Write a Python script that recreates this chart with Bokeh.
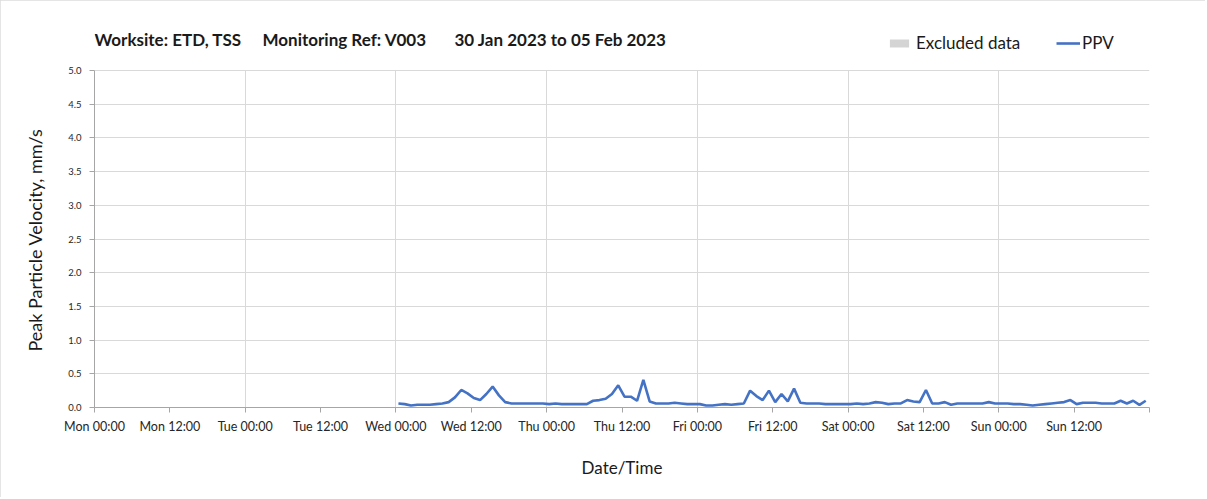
import pandas as pd
from bokeh.plotting import figure
from bokeh.models import (FixedTicker, DatetimeTickFormatter, Legend, LegendItem,
                          NumeralTickFormatter, Range1d, ColumnDataSource, Label, Title)
from bokeh.embed import file_html
from bokeh.resources import INLINE

# ---- data (hourly PPV readings, mm/s) ----
series_start = "2023-02-01 00:24"
wed_ppv = [0.06, 0.05, 0.03, 0.04, 0.04, 0.04, 0.05, 0.06, 0.08, 0.15, 0.26, 0.21,
           0.14, 0.11, 0.20, 0.31, 0.18, 0.08, 0.06, 0.06, 0.06, 0.06, 0.06, 0.06]
thu_ppv = [0.05, 0.06, 0.05, 0.05, 0.05, 0.05, 0.05, 0.10, 0.11, 0.13, 0.20, 0.33,
           0.16, 0.16, 0.10, 0.41, 0.09, 0.06, 0.06, 0.06, 0.07, 0.06, 0.05, 0.05]
fri_ppv = [0.05, 0.03, 0.03, 0.04, 0.05, 0.04, 0.05, 0.06, 0.25, 0.17, 0.11, 0.25,
           0.08, 0.20, 0.09, 0.28, 0.07, 0.06, 0.06, 0.06, 0.05, 0.05, 0.05, 0.05]
sat_ppv = [0.05, 0.06, 0.05, 0.06, 0.08, 0.07, 0.05, 0.06, 0.06, 0.11, 0.09, 0.08,
           0.26, 0.06, 0.06, 0.08, 0.04, 0.06, 0.06, 0.06, 0.06, 0.06, 0.08, 0.06]
sun_ppv = [0.06, 0.06, 0.05, 0.05, 0.04, 0.03, 0.04, 0.05, 0.06, 0.07, 0.08, 0.11,
           0.05, 0.07, 0.07, 0.07, 0.06, 0.06, 0.06, 0.10, 0.06, 0.10, 0.04, 0.10]

period_start = "2023-01-30 00:00"
period_end = "2023-02-06 00:00"
y_ticks = [0.0, 0.5, 1.0, 1.5, 2.0, 2.5, 3.0, 3.5, 4.0, 4.5, 5.0]
y_max = 5.0

title_parts = ["Worksite: ETD, TSS", "Monitoring Ref: V003", "30 Jan 2023 to 05 Feb 2023"]
legend_labels = ["Excluded data", "PPV"]
y_label = "Peak Particle Velocity, mm/s"
x_label = "Date/Time"

ppv = wed_ppv + thu_ppv + fri_ppv + sat_ppv + sun_ppv
times = pd.date_range(series_start, periods=len(ppv), freq="h")
src = ColumnDataSource(dict(t=times, v=ppv))

FONT = "Lato"
AXIS_COL = "#a6a6a6"
GRID_COL = "#d9d9d9"
TXT = "#1a1a1a"

# layout: frame spans 5.0 units over 337px; extra headroom holds title/legend
FRAME_H = 383
PLOT_H = 337
y_top = y_max * FRAME_H / PLOT_H

p = figure(width=1205, height=497, x_axis_type="datetime",
           output_backend="svg", toolbar_location=None,
           x_range=Range1d(pd.Timestamp(period_start), pd.Timestamp(period_end)),
           y_range=Range1d(0, y_top),
           min_border_left=94, min_border_right=56, min_border_top=24, min_border_bottom=90)
p.styles = {"outline": "1px solid #dcdcdc", "outline-offset": "-1px"}
p.outline_line_color = None

# x axis
tick_ms = [t.value / 1e6 for t in pd.date_range(period_start, period_end, freq="12h")]
day_ms = [t.value / 1e6 for t in pd.date_range(period_start, period_end, freq="24h")][1:]
fmt = "%a %H:%M"
p.xaxis.ticker = FixedTicker(ticks=tick_ms)
p.xaxis.formatter = DatetimeTickFormatter(microseconds=fmt, milliseconds=fmt, seconds=fmt,
                                          minsec=fmt, minutes=fmt, hourmin=fmt, hours=fmt,
                                          days=fmt, months=fmt, years=fmt, context=None)
p.xaxis.major_label_overrides = {tick_ms[-1]: ""}
p.xgrid.ticker = FixedTicker(ticks=day_ms)
p.xgrid.grid_line_color = GRID_COL
p.xgrid.cross_bounds = (0, y_max)
p.xaxis.axis_label = x_label
p.xaxis.axis_label_text_font = FONT
p.xaxis.axis_label_text_font_size = "17px"
p.xaxis.axis_label_text_font_style = "normal"
p.xaxis.axis_label_text_color = TXT
p.xaxis.axis_label_standoff = 20
p.xaxis.major_label_text_font = FONT
p.xaxis.major_label_text_font_size = "12.5px"
p.xaxis.major_label_text_color = "#262626"
p.xaxis.major_label_standoff = 6

# y axis
p.yaxis.ticker = FixedTicker(ticks=y_ticks)
p.yaxis.bounds = (0, y_max)
p.yaxis.formatter = NumeralTickFormatter(format="0.0")
p.ygrid.ticker = FixedTicker(ticks=y_ticks)
p.ygrid.grid_line_color = GRID_COL
p.yaxis.major_label_text_font = FONT
p.yaxis.major_label_text_font_size = "9.5px"
p.yaxis.major_label_text_color = "#262626"
p.yaxis.major_label_standoff = 8

for ax in (p.xaxis, p.yaxis):
    ax.axis_line_color = AXIS_COL
    ax.major_tick_line_color = AXIS_COL
    ax.major_tick_out = 5
    ax.major_tick_in = 0
    ax.minor_tick_line_color = None

# y axis title, placed over the 0-5 band rather than the whole frame
p.add_layout(Title(text=y_label, align="left", offset=56, standoff=40,
                   text_font=FONT, text_font_size="18px", text_font_style="normal",
                   text_color=TXT), "left")

# glyphs
nan = float("nan")
exc = p.quad(left=[nan], right=[nan], top=[nan], bottom=[nan],
             fill_color="#d4d4d4", line_color=None)
line = p.line("t", "v", source=src, line_color="#4472C4", line_width=2.6)

# title (screen units relative to frame bottom-left)
for txt, xo in zip(title_parts, [0, 168, 360]):
    p.add_layout(Label(x=xo, y=FRAME_H - 15, x_units="screen", y_units="screen", text=txt,
                       text_font=FONT, text_font_style="bold", text_font_size="17px",
                       text_color=TXT, text_baseline="middle"))

common = dict(orientation="horizontal", padding=0, margin=0, border_line_color=None,
              background_fill_alpha=0, glyph_width=24, glyph_height=10, label_height=18,
              label_standoff=5, label_text_font=FONT, label_text_font_size="17px",
              label_text_color=TXT, label_text_baseline="middle")
leg1 = Legend(items=[LegendItem(label=legend_labels[0], renderers=[exc])],
              location=(793, FRAME_H - 29), **common)
leg2 = Legend(items=[LegendItem(label=legend_labels[1], renderers=[line])],
              location=(962, FRAME_H - 29), **{**common, "label_standoff": 2})
p.add_layout(leg1)
p.add_layout(leg2)

open("out.html", "w").write(file_html(p, INLINE))
